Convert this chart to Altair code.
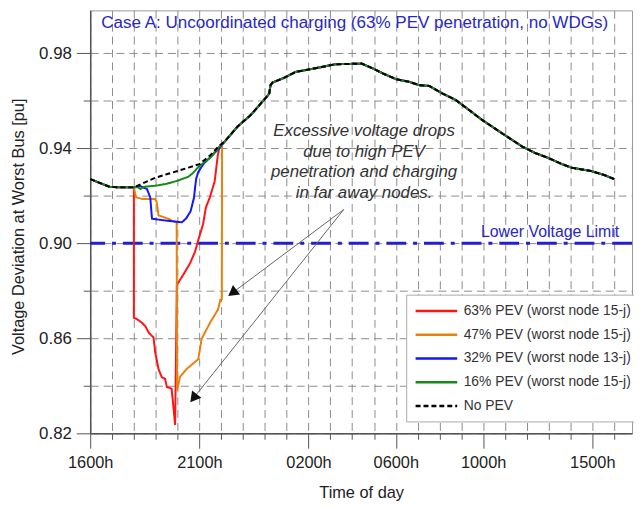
import altair as alt
import pandas as pd

FONT = "Liberation Sans"

series_names = ["63% PEV (worst node 15-j)", "47% PEV (worst node 15-j)",
                "32% PEV (worst node 13-j)", "16% PEV (worst node 15-j)", "No PEV"]
series_colors = ["#ff1414", "#e8820c", "#1414ff", "#168a16", "#000000"]
series_dash = [[1, 0], [1, 0], [1, 0], [1, 0], [5, 3]]

# hours after 16:00
base_h = [0.0, 0.4, 0.9, 1.5, 2.0, 2.35, 3.0, 3.5, 4.0, 4.5, 5.0, 5.5, 5.85, 6.2, 6.76,
          7.36, 8.09, 8.2, 8.26, 8.35, 8.88, 9.41, 10.24, 11.22, 12.43, 12.96, 13.42, 14.02,
          14.62, 15.08, 15.53, 16.14, 16.74, 17.35, 17.95, 18.86, 19.77, 20.37, 20.98, 21.58,
          22.04, 22.94, 23.55, 24.0]
base_v = [0.927, 0.9255, 0.9237, 0.9235, 0.9235, 0.925, 0.9276, 0.929, 0.9304, 0.9318,
          0.9333, 0.937, 0.9405, 0.9432, 0.9492, 0.954, 0.9617, 0.963, 0.9665, 0.9676,
          0.9696, 0.9721, 0.9735, 0.9753, 0.9756, 0.9735, 0.9714, 0.969, 0.9679, 0.9665,
          0.9662, 0.963, 0.9603, 0.9561, 0.9519, 0.9463, 0.9408, 0.938, 0.9359, 0.9334,
          0.9318, 0.9304, 0.9287, 0.927]

charging_start = 2.0

red_h = [2.0, 2.15, 2.37, 2.53, 2.68, 2.9, 2.98, 3.13, 3.28, 3.43, 3.51, 3.73, 3.89, 3.97,
         4.26, 4.57, 4.8, 4.95, 5.17, 5.3, 5.48, 5.7, 5.85, 5.93]
red_v = [0.8686, 0.868, 0.8665, 0.865, 0.8624, 0.8603, 0.854, 0.847, 0.8436, 0.8429, 0.8395,
         0.8388, 0.8235, 0.8825, 0.8867, 0.8915, 0.8964, 0.9013, 0.908, 0.9151, 0.9193,
         0.926, 0.9374, 0.9405]

orange_h = [2.1, 2.4, 2.98, 3.05, 3.13, 3.58, 3.88, 3.96, 3.98, 4.11, 4.41, 4.95, 5.1, 5.25,
            5.55, 5.85, 5.96, 6.03, 6.04]
orange_v = [0.9193, 0.9186, 0.9186, 0.9172, 0.9117, 0.9103, 0.9089, 0.9089, 0.838, 0.8437,
            0.847, 0.8512, 0.8596, 0.8624, 0.8675, 0.872, 0.8762, 0.8765, 0.9417]

blue_h = [2.3, 2.6, 2.75, 2.83, 3.5, 4.0, 4.2, 4.4, 4.6, 4.75, 4.85, 4.95, 5.2, 5.6, 5.95]
blue_v = [0.924, 0.9228, 0.9193, 0.9103, 0.9095, 0.909, 0.9088, 0.9105, 0.9135, 0.919,
          0.927, 0.930, 0.9335, 0.937, 0.9405]

green_h = [2.2, 2.3, 2.5, 3.0, 3.5, 4.0, 4.5, 4.7, 5.0, 5.5, 5.9]
green_v = [0.9235, 0.9228, 0.9238, 0.9242, 0.925, 0.9263, 0.928, 0.9295, 0.9325, 0.936, 0.9405]

x_major = [0, 5, 10, 14, 18, 23]
x_major_labels = ["1600h", "2100h", "0200h", "0600h", "1000h", "1500h"]
x_ticks = list(range(0, 25))
y_ticks = [0.82, 0.84, 0.86, 0.88, 0.90, 0.92, 0.94, 0.96, 0.98]

limit_value = [0.90]
limit_label = ["Lower Voltage Limit"]
limit_label_h = [24.23]
limit_label_v = [0.9046]

title_text = ["Case A: Uncoordinated charging (63% PEV penetration, no WDGs)"]
title_h = [0.5]
title_v = [0.9925]

note_lines = ["Excessive voltage drops", "due to high PEV",
              "penetration and charging", "in far away nodes."]
note_h = [12.545] * 4
note_v = [0.9471, 0.9385, 0.9298, 0.9213]

arrow_h0 = [11.615, 11.615]
arrow_v0 = [0.9142, 0.9142]
arrow_h1 = [6.512, 4.732]
arrow_v1 = [0.8791, 0.8348]
arrow_angle = [233.3, 218.5]


def make_rows(name, dev_h, dev_v):
    end = dev_h[-1]
    pts = [(h, v) for h, v in zip(base_h, base_v) if h <= charging_start]
    pts += list(zip(dev_h, dev_v))
    pts += [(h, v) for h, v in zip(base_h, base_v) if h > end]
    return [{"h": h, "v": v, "series": name, "order": i} for i, (h, v) in enumerate(pts)]


rows = []
for nm, dh, dv in zip(series_names[:4], [red_h, orange_h, blue_h, green_h],
                      [red_v, orange_v, blue_v, green_v]):
    rows += make_rows(nm, dh, dv)
df_pev = pd.DataFrame(rows)
df_base = pd.DataFrame({"h": base_h, "v": base_v, "series": series_names[4],
                        "order": list(range(len(base_h)))})

x_label_expr = "".join(f"datum.value == {h} ? '{l}' : " for h, l in zip(x_major, x_major_labels)) + "''"
x_major_test = "indexof([" + ",".join(str(h) for h in x_major) + "], datum.value) >= 0"
y_major_test = "round(datum.value * 100) % 4 == 2"

x_scale = alt.Scale(domain=[0, 24.82], nice=False, zero=False)
y_scale = alt.Scale(domain=[0.82, 0.998], nice=False, zero=False)

x_enc = alt.X("h:Q", scale=x_scale,
              axis=alt.Axis(values=x_ticks, labelExpr=x_label_expr, labelOverlap=False,
                            labelFlush=False,
                            tickSize={"condition": {"test": x_major_test, "value": 15}, "value": 6},
                            tickColor="#555", domainColor="#555", domainWidth=1.5,
                            grid=True, gridDash=[8, 5], gridColor="#8c8c8c", gridWidth=1,
                            labelFontSize=16.5, labelColor="#222", labelPadding=7, labelFont=FONT,
                            title="Time of day", titleFontSize=16.5, titleFontWeight="normal",
                            titleColor="#222", titleFont=FONT, titleY=60, titleBaseline="middle"))
y_enc = alt.Y("v:Q", scale=y_scale,
              axis=alt.Axis(values=y_ticks,
                            labelExpr="round(datum.value * 100) % 4 == 2 ? format(datum.value, '.2f') : ''",
                            labelOverlap=False, labelFlush=False,
                            tickSize={"condition": {"test": y_major_test, "value": 14}, "value": 7},
                            tickColor="#555", domainColor="#555", domainWidth=1.5,
                            grid=True, gridDash=[8, 5], gridColor="#8c8c8c", gridWidth=1,
                            labelFontSize=17, labelColor="#222", labelPadding=5, labelFont=FONT,
                            title="Voltage Deviation at Worst Bus [pu]", titleFontSize=16.5,
                            titleFontWeight="normal", titleColor="#222", titleFont=FONT,
                            titleX=-72, titleY=218, titleAngle=270, titleAlign="center",
                            titleBaseline="middle"))

legend_obj = alt.Legend(title=None, orient="none", legendX=319, legendY=287,
                        symbolType="M-1,0H5", symbolSize=196, symbolStrokeWidth=2.5,
                        labelFontSize=14, labelFont=FONT, labelColor="#333", labelLimit=300,
                        fillColor="white", strokeColor="#aaaaaa", padding=8, rowPadding=8,
                        labelOffset=33)
color_enc = alt.Color("series:N", scale=alt.Scale(domain=series_names, range=series_colors),
                      legend=legend_obj)
dash_enc = alt.StrokeDash("series:N", scale=alt.Scale(domain=series_names, range=series_dash),
                          legend=legend_obj)

pev_lines = alt.Chart(df_pev).mark_line(strokeWidth=2).encode(
    x=x_enc, y=y_enc, color=color_enc, strokeDash=dash_enc, order="order:Q")
base_line = alt.Chart(df_base).mark_line(strokeWidth=2).encode(
    x=x_enc, y=y_enc, color=color_enc, strokeDash=dash_enc, order="order:Q")

limit_rule = alt.Chart(pd.DataFrame({"v": limit_value})).mark_rule(
    color="#2020d0", strokeWidth=3, strokeDash=[20, 7, 4, 7]).encode(y=y_enc)
limit_text = alt.Chart(pd.DataFrame({"h": limit_label_h, "v": limit_label_v, "t": limit_label})).mark_text(
    align="right", baseline="middle", fontSize=16, font=FONT, color="#2727c8").encode(
    x=x_enc, y=y_enc, text="t:N")
title_mark = alt.Chart(pd.DataFrame({"h": title_h, "v": title_v, "t": title_text})).mark_text(
    align="left", baseline="middle", fontSize=17.2, font=FONT, color="#2727c8").encode(
    x=x_enc, y=y_enc, text="t:N")
note_mark = alt.Chart(pd.DataFrame({"h": note_h, "v": note_v, "t": note_lines})).mark_text(
    align="center", baseline="middle", fontSize=17, font=FONT, fontStyle="italic",
    color="#333333").encode(x=x_enc, y=y_enc, text="t:N")

df_arrow = pd.DataFrame({"h": arrow_h0, "v": arrow_v0, "h2": arrow_h1, "v2": arrow_v1})
arrow_lines = alt.Chart(df_arrow).mark_rule(color="#666666", strokeWidth=1).encode(
    x=x_enc, y=y_enc, x2="h2:Q", y2="v2:Q")
df_heads = pd.DataFrame({"h": arrow_h1, "v": arrow_v1, "ang": arrow_angle})
arrow_heads = alt.Chart(df_heads).mark_point(shape="triangle-up", filled=True, size=144,
                                             color="#111111", opacity=1).encode(
    x=x_enc, y=y_enc, angle=alt.Angle("ang:Q", scale=None))

chart = alt.layer(
    limit_rule, pev_lines, base_line, limit_text, title_mark, note_mark, arrow_lines, arrow_heads
).properties(
    width=547, height=427,
    autosize=alt.AutoSizeParams(type="none"),
    padding={"left": 83, "top": 0, "right": 2, "bottom": 70},
).configure(font=FONT).configure_view(stroke="#999999", strokeWidth=1)

chart.save("out.html", embed_options={"renderer": "svg", "actions": False})
